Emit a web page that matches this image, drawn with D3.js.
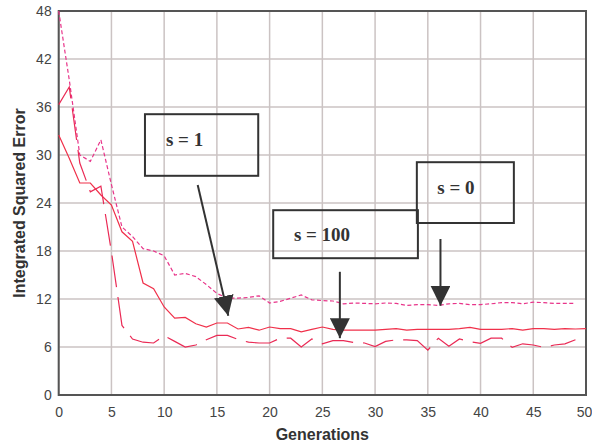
<!DOCTYPE html>
<html>
<head>
<meta charset="utf-8">
<script src="https://cdn.jsdelivr.net/npm/d3@7"></script>
<style>
  body { margin: 0; background: #fff; }
  svg { display: block; }
</style>
</head>
<body>
<svg id="chart"></svg>
<script>
"use strict";

// generations on the x axis
const generations = [0, 1, 2, 3, 4, 5, 6, 7, 8, 9, 10, 11, 12, 13, 14, 15, 16, 17, 18, 19, 20,
  21, 22, 23, 24, 25, 26, 27, 28, 29, 30, 31, 32, 33, 34, 35, 36, 37, 38, 39, 40,
  41, 42, 43, 44, 45, 46, 47, 48, 49, 50];

// s = 0 (dotted)
const errS0 = [48, 39.4, 30.0, 29.2, 31.9, 26.3, 21.0, 19.8, 18.3, 18.0,
  17.4, 15.0, 15.2, 14.8, 13.8, 12.7, 12.1, 12.1, 12.2, 12.4,
  11.5, 11.7, 12.1, 12.5, 11.9, 11.8, 11.75, 11.4, 11.5, 11.45,
  11.4, 11.5, 11.45, 11.2, 11.3, 11.3, 11.2, 11.4, 11.45, 11.3,
  11.3, 11.4, 11.55, 11.55, 11.4, 11.6, 11.55, 11.45, 11.45, 11.45];

// s = 1 (solid)
const errS1 = [32.5, 29.6, 26.5, 26.5, 25.0, 23.75, 20.4, 19.2, 14.0, 13.3,
  11.0, 9.6, 9.7, 8.9, 8.5, 9.0, 9.0, 8.25, 8.45, 8.1,
  8.5, 8.3, 8.3, 7.9, 8.2, 8.5, 8.2, 8.1, 8.1, 8.1,
  8.1, 8.2, 8.3, 8.1, 8.2, 8.2, 8.2, 8.2, 8.3, 8.45,
  8.2, 8.2, 8.2, 8.3, 8.1, 8.3, 8.3, 8.2, 8.3, 8.25, 8.3];

// s = 100 (long dash)
const errS100 = [36.3, 38.5, 29.0, 25.4, 26.1, 17.9, 8.7, 7.0, 6.6, 6.5,
  7.4, 6.7, 6.0, 6.25, 6.9, 7.45, 7.45, 6.95, 6.6, 6.5,
  6.5, 7.1, 7.1, 6.0, 7.0, 6.4, 6.8, 6.8, 6.55, 6.5,
  6.05, 6.7, 6.9, 6.9, 6.8, 5.6, 7.1, 6.1, 7.0, 6.65,
  6.45, 7.1, 7.1, 5.95, 6.4, 6.25, 5.95, 6.25, 6.4, 6.9];

const xTicks = [0, 5, 10, 15, 20, 25, 30, 35, 40, 45, 50];
const yTicks = [0, 6, 12, 18, 24, 30, 36, 42, 48];

// annotation boxes and arrows, in data units
const boxLabels = ["s = 1", "s = 100", "s = 0"];
const boxX = [[8.18, 18.92], [20.34, 34.06], [33.96, 43.16]];
const boxY = [[35.1, 27.4], [23.1, 17.1], [29.1, 21.5]];
const boxText = [[10.17, 31.1], [22.3, 19.2], [35.9, 25.1]];
const arrowFrom = [[13.18, 26.25], [26.66, 15.4], [36.2, 19.5]];
const arrowTo = [[16.08, 9.9], [26.66, 7.1], [36.2, 11.16]];

const width = 592;
const height = 444;
const margin = { top: 11, right: 6, bottom: 49, left: 58.7 };

const svg = d3.select("#chart").attr("width", width).attr("height", height);

const x = d3.scaleLinear().domain([0, 50]).range([margin.left, width - margin.right]);
const y = d3.scaleLinear().domain([0, 48]).range([height - margin.bottom, margin.top]);

// grid
svg.append("g")
  .attr("stroke", "#cbc3c3")
  .attr("stroke-width", 1.5)
  .call(g => g.selectAll("line.v").data(xTicks).join("line")
    .attr("x1", d => x(d)).attr("x2", d => x(d))
    .attr("y1", y(0)).attr("y2", y(48)))
  .call(g => g.selectAll("line.h").data(yTicks).join("line")
    .attr("class", "h")
    .attr("x1", x(0)).attr("x2", x(50))
    .attr("y1", d => y(d)).attr("y2", d => y(d)));

// frame
svg.append("rect")
  .attr("x", x(0)).attr("y", y(48))
  .attr("width", x(50) - x(0)).attr("height", y(0) - y(48))
  .attr("fill", "none").attr("stroke", "#555").attr("stroke-width", 2);

const tickFont = "'Liberation Sans Narrow', 'Arial Narrow', 'Liberation Sans', sans-serif";

const xAxis = d3.axisBottom(x).tickValues(xTicks).tickSize(0).tickPadding(12);
svg.append("g")
  .attr("transform", `translate(0,${y(0)})`)
  .call(xAxis)
  .call(g => g.select(".domain").remove())
  .call(g => g.selectAll("text")
    .attr("fill", "#444").style("font-family", tickFont).style("font-size", "14px")
    .attr("dx", d => d === 50 ? -2 : 0));

const yAxis = d3.axisLeft(y).tickValues(yTicks).tickSize(0).tickPadding(7);
svg.append("g")
  .attr("transform", `translate(${x(0)},0)`)
  .call(yAxis)
  .call(g => g.select(".domain").remove())
  .call(g => g.selectAll("text")
    .attr("fill", "#444").style("font-family", tickFont).style("font-size", "14px"));

// axis titles
svg.append("text")
  .attr("x", (x(0) + x(50)) / 2).attr("y", 440)
  .attr("text-anchor", "middle")
  .style("font-family", "'Liberation Sans', Arial, sans-serif")
  .style("font-weight", "bold").style("font-size", "16px")
  .attr("fill", "#333")
  .text("Generations");

svg.append("text")
  .attr("transform", `translate(25,${(y(0) + y(48)) / 2}) rotate(-90)`)
  .attr("text-anchor", "middle")
  .style("font-family", "'Liberation Sans', Arial, sans-serif")
  .style("font-weight", "bold").style("font-size", "16px")
  .attr("fill", "#333")
  .text("Integrated Squared Error");

// series
const line = d3.line().x((d, i) => x(generations[i])).y(d => y(d));

const series = [
  { values: errS0, color: "#e8358a", dash: "4,2.5" },
  { values: errS1, color: "#f0304a", dash: null },
  { values: errS100, color: "#ea2a55", dash: "32,10" }
];

svg.append("g")
  .selectAll("path")
  .data(series)
  .join("path")
  .attr("d", d => line(d.values))
  .attr("fill", "none")
  .attr("stroke", d => d.color)
  .attr("stroke-width", 1.2)
  .attr("stroke-dasharray", d => d.dash);

// annotation boxes
const ann = svg.append("g");
ann.selectAll("rect")
  .data(boxLabels)
  .join("rect")
  .attr("x", (d, i) => x(boxX[i][0]))
  .attr("y", (d, i) => y(boxY[i][0]))
  .attr("width", (d, i) => x(boxX[i][1]) - x(boxX[i][0]))
  .attr("height", (d, i) => y(boxY[i][1]) - y(boxY[i][0]))
  .attr("fill", "none")
  .attr("stroke", "#333")
  .attr("stroke-width", 2);

ann.selectAll("text")
  .data(boxLabels)
  .join("text")
  .attr("x", (d, i) => x(boxText[i][0]))
  .attr("y", (d, i) => y(boxText[i][1]))
  .style("font-family", "'Liberation Serif', 'Times New Roman', serif")
  .style("font-weight", "bold")
  .style("font-size", "19px")
  .attr("fill", "#333")
  .text(d => d);

// arrows
svg.append("defs").append("marker")
  .attr("id", "head")
  .attr("viewBox", "0 0 20 20")
  .attr("refX", 20).attr("refY", 10)
  .attr("markerWidth", 20).attr("markerHeight", 20)
  .attr("markerUnits", "userSpaceOnUse")
  .attr("orient", "auto")
  .append("path")
  .attr("d", "M0,0L20,10L0,20Z")
  .attr("fill", "#333");

svg.append("g")
  .selectAll("line")
  .data(arrowFrom)
  .join("line")
  .attr("x1", d => x(d[0])).attr("y1", d => y(d[1]))
  .attr("x2", (d, i) => x(arrowTo[i][0])).attr("y2", (d, i) => y(arrowTo[i][1]))
  .attr("stroke", "#333")
  .attr("stroke-width", 2)
  .attr("marker-end", "url(#head)");
</script>
</body>
</html>
